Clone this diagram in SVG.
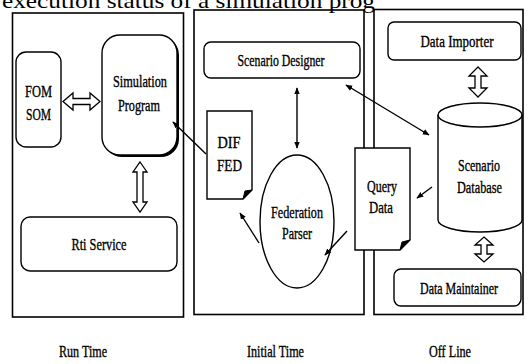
<svg xmlns="http://www.w3.org/2000/svg" width="528" height="364" viewBox="0 0 528 364">
  <defs>
    <marker id="head" viewBox="0 0 10 10" refX="9" refY="5" markerWidth="7" markerHeight="7" markerUnits="userSpaceOnUse" orient="auto-start-reverse">
      <path d="M0,1 L10,5 L0,9 Z" fill="#000"/>
    </marker>
  </defs>
  <style>
    text { font-family: "Liberation Serif", "Times New Roman", serif; fill: #000; text-anchor: middle; }
    .lbl { font-size: 17px; stroke: #000; stroke-width: 0.35; }
    .panel { fill: none; stroke: #000; stroke-width: 1.6; }
    .box { fill: #fff; stroke: #000; stroke-width: 1.4; }
    .hollow { fill: #fff; stroke: #000; stroke-width: 1.3; stroke-linejoin: miter; }
    .link { fill: none; stroke: #000; stroke-width: 1.4; }
  </style>

  <rect width="528" height="364" fill="#fff"/>

  <!-- heading, partly cut off at the top edge -->
  <text x="2" y="8" font-size="22" style="text-anchor:start" textLength="373" lengthAdjust="spacingAndGlyphs">execution status of a simulation prog</text>

  <!-- the three phases -->
  <g id="panels">
    <rect class="panel" x="12.5" y="13" width="171" height="304"/>
    <rect class="panel" x="194" y="10" width="170" height="304.5"/>
    <rect class="panel" x="374" y="9.5" width="149" height="305"/>
  </g>

  <!-- Run Time -->
  <g id="fom-som">
    <rect class="box" x="16" y="52" width="45" height="95" rx="10"/>
    <text class="lbl" x="38.5" y="97" textLength="27" lengthAdjust="spacingAndGlyphs">FOM</text>
    <text class="lbl" x="38.5" y="120" textLength="25" lengthAdjust="spacingAndGlyphs">SOM</text>
  </g>

  <g id="simulation-program">
    <rect x="104" y="37" width="75" height="120" rx="18" fill="#000"/>
    <rect class="box" x="102" y="35" width="75" height="120" rx="18"/>
    <text class="lbl" x="140" y="87" textLength="54" lengthAdjust="spacingAndGlyphs">Simulation</text>
    <text class="lbl" x="139" y="111" textLength="42" lengthAdjust="spacingAndGlyphs">Program</text>
  </g>

  <g id="rti-service">
    <rect class="box" x="21" y="217" width="156" height="54" rx="9"/>
    <text class="lbl" x="99" y="250" textLength="55" lengthAdjust="spacingAndGlyphs">Rti Service</text>
  </g>

  <!-- Initial Time -->
  <g id="scenario-designer">
    <rect class="box" x="204" y="42" width="156" height="36" rx="7"/>
    <text class="lbl" x="281" y="66" textLength="87" lengthAdjust="spacingAndGlyphs">Scenario Designer</text>
  </g>

  <g id="dif-fed">
    <path class="box" d="M207,111 H252 V190 L243,199 H207 Z"/>
    <path d="M252,190 L243,199 L245,191 Z" fill="#000" stroke="#000" stroke-width="1"/>
    <text class="lbl" x="229" y="148" textLength="23" lengthAdjust="spacingAndGlyphs">DIF</text>
    <text class="lbl" x="229.5" y="171" textLength="25" lengthAdjust="spacingAndGlyphs">FED</text>
  </g>

  <g id="federation-parser">
    <ellipse class="box" cx="297" cy="221.5" rx="37" ry="66.5"/>
    <text class="lbl" x="297" y="218" textLength="52" lengthAdjust="spacingAndGlyphs">Federation</text>
    <text class="lbl" x="297" y="239" textLength="30" lengthAdjust="spacingAndGlyphs">Parser</text>
  </g>

  <!-- Off Line -->
  <g id="query-data">
    <path class="box" d="M355,148 H410 V240 L400,250 H355 Z"/>
    <path d="M410,240 L400,250 L402,242 Z" fill="#000" stroke="#000" stroke-width="1"/>
    <text class="lbl" x="382" y="192" textLength="30" lengthAdjust="spacingAndGlyphs">Query</text>
    <text class="lbl" x="381" y="213" textLength="24" lengthAdjust="spacingAndGlyphs">Data</text>
  </g>

  <g id="data-importer">
    <rect class="box" x="388" y="22" width="133" height="38" rx="6"/>
    <text class="lbl" x="457" y="47" textLength="73" lengthAdjust="spacingAndGlyphs">Data Importer</text>
  </g>

  <g id="scenario-database">
    <path class="box" d="M438,115 A42,12 0 0 1 522,115 V220 A42,12 0 0 1 438,220 Z"/>
    <path class="link" d="M438,115 A42,12 0 0 0 522,115"/>
    <text class="lbl" x="479" y="171" textLength="42" lengthAdjust="spacingAndGlyphs">Scenario</text>
    <text class="lbl" x="479.5" y="193" textLength="45" lengthAdjust="spacingAndGlyphs">Database</text>
  </g>

  <g id="data-maintainer">
    <rect class="box" x="394" y="269" width="127" height="37" rx="7"/>
    <text class="lbl" x="459" y="294" font-size="16" style="font-size:16px" textLength="78" lengthAdjust="spacingAndGlyphs">Data Maintainer</text>
  </g>

  <!-- phase captions -->
  <g id="captions">
    <text class="lbl" x="83" y="357" textLength="48" lengthAdjust="spacingAndGlyphs">Run Time</text>
    <text class="lbl" x="275.5" y="357" textLength="57" lengthAdjust="spacingAndGlyphs">Initial Time</text>
    <text class="lbl" x="450" y="357" textLength="42" lengthAdjust="spacingAndGlyphs">Off Line</text>
  </g>

  <g id="connectors">
    <!-- hollow two-way arrows -->
    <polygon class="hollow" points="63,101.5 73,93 73,98.5 90,98.5 90,93 100,101.5 90,110 90,104.5 73,104.5 73,110"/>
    <polygon class="hollow" points="140,162 147,172 143,172 143,202 147,202 140,212 133,202 137,202 137,172 133,172"/>
    <polygon class="hollow" points="478,67 487,76 481,76 481,88 487,88 478,97 469,88 475,88 475,76 469,76"/>
    <polygon class="hollow" points="484,237 493,245 487,245 487,254 493,254 484,262 475,254 481,254 481,245 475,245"/>
    <!-- thin arrows -->
    <line class="link" x1="206" y1="154" x2="173" y2="122" marker-end="url(#head)"/>
    <line class="link" x1="297" y1="88" x2="297" y2="148" marker-start="url(#head)" marker-end="url(#head)"/>
    <line class="link" x1="346" y1="85" x2="429" y2="135" marker-start="url(#head)" marker-end="url(#head)"/>
    <line class="link" x1="259" y1="243" x2="240" y2="213" marker-end="url(#head)"/>
    <line class="link" x1="347" y1="231" x2="325" y2="255" marker-end="url(#head)"/>
    <line class="link" x1="432" y1="187" x2="417" y2="198" marker-end="url(#head)"/>
  </g>
</svg>
